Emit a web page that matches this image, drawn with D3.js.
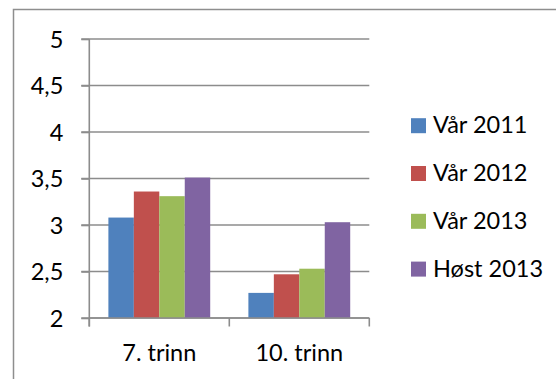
<!DOCTYPE html>
<html><head><meta charset="utf-8">
<script src="https://cdn.jsdelivr.net/npm/d3@7"></script>
<style>
html,body{margin:0;padding:0;background:#fff;}
svg{display:block;}
text{font-family:Lato,"Noto Sans",sans-serif;fill:#000;}
</style></head>
<body>
<svg id="c" width="556" height="379"></svg>
<script>
const categories = ["7. trinn", "10. trinn"];
const seriesNames = ["Vår 2011", "Vår 2012", "Vår 2013", "Høst 2013"];
const vaar2011 = [3.08, 2.27];
const vaar2012 = [3.36, 2.47];
const vaar2013 = [3.31, 2.53];
const host2013 = [3.51, 3.03];
const yTicks = [2, 2.5, 3, 3.5, 4, 4.5, 5];
const yTickLabels = ["2", "2,5", "3", "3,5", "4", "4,5", "5"];
const colors = ["#4F81BD", "#C0504D", "#9BBB59", "#8064A2"];

(function(){
const seriesValues = [vaar2011, vaar2012, vaar2013, host2013];
const svg = d3.select("#c");
const pLeft = 89.3, pRight = 369.3, pTop = 39, pBottom = 318;
const gridColor = "#8c8c8c";

// outer border
svg.append("rect").attr("x", 13.5).attr("y", 9.5).attr("width", 600).attr("height", 400)
  .attr("fill", "none").attr("stroke", "#8e8e8e").attr("stroke-width", 1.5);

const y = d3.scaleLinear().domain([2, 5]).range([pBottom, pTop]);
const x0 = d3.scaleBand().domain(categories).range([pLeft, pRight]).padding(0);
const bw = x0.bandwidth();
const gap = bw * 0.75 / 5.5;
const x1 = d3.scaleBand().domain(seriesNames).range([gap, bw - gap]).padding(0);

// gridlines
svg.append("g").selectAll("line").data(yTicks).join("line")
  .attr("x1", pLeft - 8).attr("x2", pRight)
  .attr("y1", d => y(d)).attr("y2", d => y(d))
  .attr("stroke", gridColor).attr("stroke-width", 1.6);

// bars
const groups = svg.append("g").selectAll("g").data(categories).join("g")
  .attr("transform", c => `translate(${x0(c)},0)`);
groups.selectAll("rect").data((c, ci) => seriesNames.map((s, si) => ({s, si, v: seriesValues[si][ci]})))
  .join("rect")
  .attr("x", d => x1(d.s)).attr("width", x1.bandwidth())
  .attr("y", d => y(d.v)).attr("height", d => y(2) - y(d.v))
  .attr("fill", d => colors[d.si]);

// y axis
const yAxis = d3.axisLeft(y).tickValues(yTicks).tickFormat((d, i) => yTickLabels[i])
  .tickSize(8).tickPadding(18);
const gy = svg.append("g").attr("transform", `translate(${pLeft},0)`).call(yAxis);
gy.select(".domain").remove();
gy.selectAll(".tick line").attr("stroke", gridColor).attr("stroke-width", 1.6);
gy.selectAll(".tick text").style("font-size", "23.5px").attr("dy", "0.36em");

// x axis
const xAxis = d3.axisBottom(x0).tickSize(0).tickPadding(26);
const gx = svg.append("g").attr("transform", `translate(0,${pBottom})`).call(xAxis);
gx.select(".domain").remove();
gx.selectAll(".tick text").style("font-size", "23.5px");
// category boundary ticks
const bounds = [pLeft, ...categories.map(c => x0(c) + bw)];
svg.append("g").selectAll("line").data(bounds).join("line")
  .attr("x1", d => d).attr("x2", d => d).attr("y1", pBottom).attr("y2", pBottom + 8.5)
  .attr("stroke", gridColor).attr("stroke-width", 1.6);
// axis lines
svg.append("line").attr("x1", pLeft).attr("x2", pLeft).attr("y1", pTop).attr("y2", pBottom + 8.5)
  .attr("stroke", gridColor).attr("stroke-width", 1.6);
svg.append("line").attr("x1", pLeft).attr("x2", pRight).attr("y1", pBottom).attr("y2", pBottom)
  .attr("stroke", gridColor).attr("stroke-width", 1.6);

// legend
const lg = svg.append("g").selectAll("g").data(seriesNames).join("g")
  .attr("transform", (d, i) => `translate(411,${125.7 + i * 47.8})`);
lg.append("rect").attr("x", 0).attr("y", -7.5).attr("width", 15).attr("height", 15)
  .attr("fill", (d, i) => colors[i]);
lg.append("text").attr("x", 22).attr("dy", "0.33em").style("font-size", "23.5px").text(d => d);
})();
</script>
</body></html>
